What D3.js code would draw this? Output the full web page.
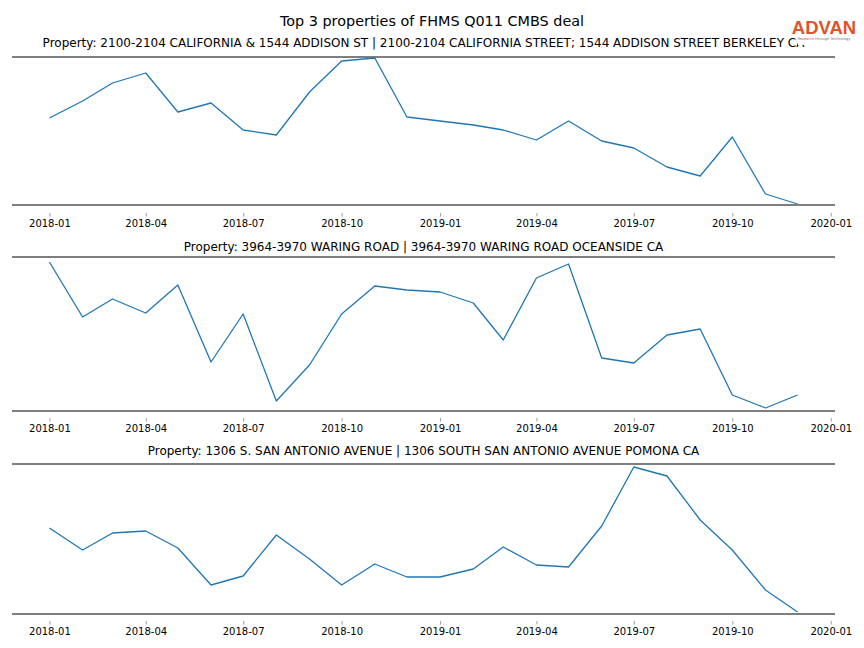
<!DOCTYPE html>
<html>
<head>
<meta charset="utf-8">
<script src="https://cdn.jsdelivr.net/npm/d3@7"></script>
<style>
  html, body { margin: 0; padding: 0; background: #fff; }
  svg { display: block; font-family: "DejaVu Sans", sans-serif; }
</style>
</head>
<body>
<svg id="chart" width="864" height="648"></svg>
<script>
// ---- data ----
const chartTitle = "Top 3 properties of FHMS Q011 CMBS deal";
const months = ["2018-01","2018-02","2018-03","2018-04","2018-05","2018-06","2018-07","2018-08","2018-09","2018-10","2018-11","2018-12",
                "2019-01","2019-02","2019-03","2019-04","2019-05","2019-06","2019-07","2019-08","2019-09","2019-10","2019-11","2019-12"];
const propertyTitles = [
  "Property: 2100-2104 CALIFORNIA & 1544 ADDISON ST | 2100-2104 CALIFORNIA STREET; 1544 ADDISON STREET BERKELEY CA",
  "Property: 3964-3970 WARING ROAD | 3964-3970 WARING ROAD OCEANSIDE CA",
  "Property: 1306 S. SAN ANTONIO AVENUE | 1306 SOUTH SAN ANTONIO AVENUE POMONA CA"
];
const visitsBerkeley  = [87, 104, 122, 132, 93, 102, 75, 70, 113, 144, 147, 88, 84, 80, 75, 65, 84, 64, 57, 38, 29, 68, 11, 1];
const visitsOceanside = [149, 94, 112, 98, 126, 49, 97, 10, 46, 97, 125, 121, 119, 108, 71, 133, 147, 53, 48, 76, 82, 16, 3, 16];
const visitsPomona    = [86, 64, 81, 83, 66, 29, 38, 79, 55, 29, 50, 37, 37, 45, 67, 49, 47, 88, 147, 138, 94, 64, 24, 2];
const seriesList = [visitsBerkeley, visitsOceanside, visitsPomona];
const guideLevels = [[0, 148], [0, 154], [0, 150]];   // horizontal rules (low, high)
const tickLabels = ["2018-01","2018-04","2018-07","2018-10","2019-01","2019-04","2019-07","2019-10","2020-01"];

// ---- layout ----
const svg = d3.select("#chart");
const parse = d3.timeParse("%Y-%m");
const fmt = d3.timeFormat("%Y-%m");
const dates = months.map(parse);
const axLeft = 12, axRight = 835;
const panels = [
  {top: 57,  bottom: 205, axisY: 213, titleY: 47},
  {top: 257, bottom: 411, axisY: 418, titleY: 251},
  {top: 464, bottom: 614, axisY: 621, titleY: 455}
];

// x domain with 5% margin like matplotlib
const t0 = dates[0].getTime(), t1 = dates[dates.length - 1].getTime();
const pad = (t1 - t0) * 0.05;
const x = d3.scaleTime().domain([new Date(t0 - pad), new Date(t1 + pad)]).range([axLeft, axRight]);

svg.append("text")
  .attr("x", 432).attr("y", 25.5)
  .attr("text-anchor", "middle")
  .attr("font-size", 14.4)
  .attr("fill", "#000")
  .text(chartTitle);

panels.forEach((p, i) => {
  const g = svg.append("g");
  const y = d3.scaleLinear().domain(guideLevels[i]).range([p.bottom, p.top]);

  g.append("text")
    .attr("x", (axLeft + axRight) / 2).attr("y", p.titleY)
    .attr("text-anchor", "middle")
    .attr("font-size", 12)
    .attr("fill", "#000")
    .text(propertyTitles[i]);

  const line = d3.line().x((d, j) => x(dates[j])).y(d => y(d));
  g.append("path")
    .datum(seriesList[i])
    .attr("d", line)
    .attr("fill", "none")
    .attr("stroke", "#1f77b4")
    .attr("stroke-width", 1.3)
    .attr("stroke-linejoin", "round");

  // horizontal rules
  guideLevels[i].forEach(v => {
    g.append("line")
      .attr("x1", axLeft).attr("x2", axRight)
      .attr("y1", y(v)).attr("y2", y(v))
      .attr("stroke", "#555").attr("stroke-width", 1.6);
  });

  const xAxis = d3.axisBottom(x)
    .tickValues(tickLabels.map(parse))
    .tickFormat(fmt)
    .tickSize(3.5)
    .tickPadding(3.5);
  const ax = g.append("g").attr("transform", `translate(0,${p.axisY})`).call(xAxis);
  ax.select(".domain").remove();
  ax.selectAll(".tick line").attr("stroke", "#888").attr("stroke-width", 0.8);
  ax.selectAll(".tick text").attr("font-size", 10).attr("fill", "#000")
    .attr("font-family", "DejaVu Sans, sans-serif");
});

// logo (white image background partly covers the end of the first subtitle)
const logo = svg.append("g");
logo.append("rect").attr("x", 798).attr("y", 15).attr("width", 66).attr("height", 30).attr("fill", "#fff");
logo.append("text")
  .attr("x", 824).attr("y", 34)
  .attr("text-anchor", "middle")
  .attr("font-size", 18.5)
  .attr("font-family", "Liberation Sans, Arial, sans-serif")
  .attr("font-weight", "bold")
  .attr("fill", "#e0542a")
  .text("ADVAN");
logo.append("text")
  .attr("x", 824).attr("y", 39.5)
  .attr("text-anchor", "middle")
  .attr("font-size", 3.6)
  .attr("fill", "#777")
  .text("Research through Technology");
</script>
</body>
</html>
